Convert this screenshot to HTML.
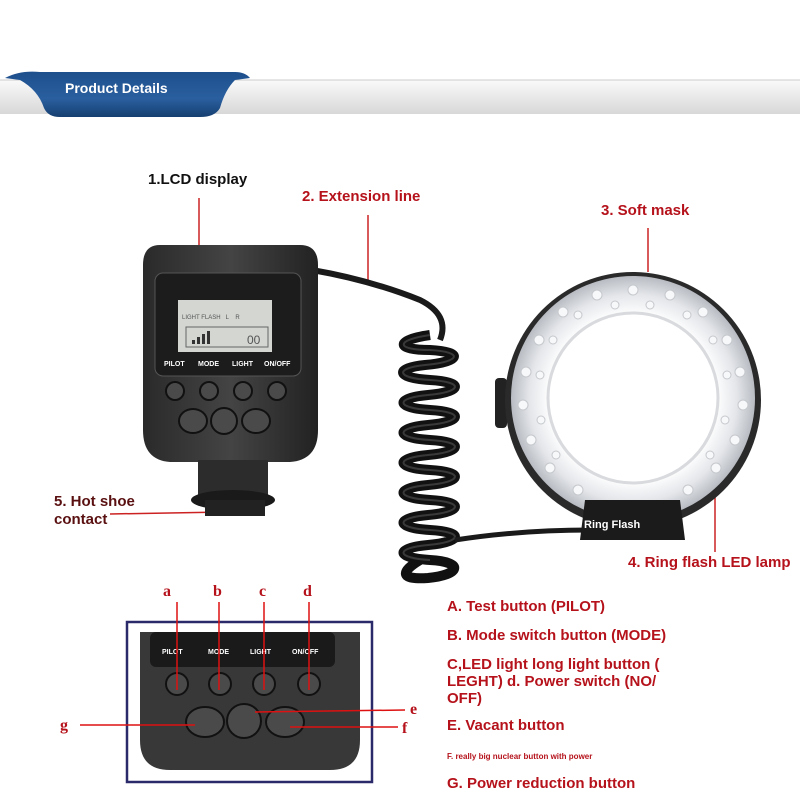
<!DOCTYPE html>
<html><head><style>
body{margin:0;background:#fff;}
svg{display:block;font-family:"Liberation Sans",sans-serif;}
.r{fill:#b5121b;font-weight:bold;font-size:15px;}
.lb{fill:#fff;font-weight:bold;font-size:7px;}
</style></head><body>
<svg width="800" height="800" viewBox="0 0 800 800">
<defs>
<linearGradient id="bar" x1="0" y1="0" x2="0" y2="1"><stop offset="0" stop-color="#fafafa"/><stop offset="1" stop-color="#d8d8d8"/></linearGradient>
<linearGradient id="tab" x1="0" y1="0" x2="0" y2="1"><stop offset="0" stop-color="#1d4f8c"/><stop offset=".6" stop-color="#2a5f9f"/><stop offset="1" stop-color="#163f70"/></linearGradient>
<radialGradient id="ring" cx=".5" cy=".5" r=".5"><stop offset=".68" stop-color="#fff"/><stop offset=".85" stop-color="#e4e6ea"/><stop offset="1" stop-color="#b8bcc2"/></radialGradient>
<linearGradient id="body" x1="0" y1="0" x2="1" y2="0"><stop offset="0" stop-color="#2a2a2a"/><stop offset=".5" stop-color="#444"/><stop offset="1" stop-color="#222"/></linearGradient>
</defs>
<rect x="0" y="80" width="800" height="34" fill="url(#bar)"/>
<line x1="0" y1="80" x2="800" y2="80" stroke="#ccc"/>
<path d="M5 78 Q20 70 40 72 L235 72 Q245 72 250 78 L235 80 Q225 90 220 108 Q215 117 200 117 L60 117 Q48 117 44 108 Q38 90 20 80 Z" fill="url(#tab)"/>
<text x="65" y="93" fill="#fff" font-weight="bold" font-size="14">Product Details</text>

<text x="148" y="184" fill="#111" font-weight="bold" font-size="15">1.LCD display</text>
<line x1="199" y1="198" x2="199" y2="270" stroke="#c22" stroke-width="1.5"/>
<text x="302" y="201" class="r">2. Extension line</text>
<line x1="368" y1="215" x2="368" y2="282" stroke="#c22" stroke-width="1.5"/>
<text x="601" y="215" class="r">3. Soft mask</text>
<line x1="648" y1="228" x2="648" y2="272" stroke="#c22" stroke-width="1.5"/>
<text x="54" y="506" fill="#5a1010" font-weight="bold" font-size="15">5. Hot shoe</text>
<text x="54" y="524" fill="#5a1010" font-weight="bold" font-size="15">contact</text>
<line x1="110" y1="514" x2="225" y2="512" stroke="#c22" stroke-width="1.5"/>
<text x="628" y="567" class="r">4. Ring flash LED lamp</text>
<line x1="715" y1="458" x2="715" y2="552" stroke="#c22" stroke-width="1.5"/>

<path d="M312 270 Q370 280 420 300 Q450 315 440 340" fill="none" stroke="#1a1a1a" stroke-width="6"/>
<g stroke="#111" stroke-width="10" fill="none">
<path d="M430 335 C395 340 395 350 430 350 C465 352 460 362 425 365 C395 368 395 378 430 380 C465 382 462 392 428 395 C395 398 395 408 430 410 C465 412 462 422 428 425 C395 428 395 438 430 440 C465 442 462 452 428 455 C395 458 395 468 430 470 C465 472 462 482 428 485 C395 488 395 498 430 500 C465 502 462 512 428 515 C395 518 395 528 430 530 C465 532 462 542 428 545 C395 548 395 558 430 560 C465 562 460 575 428 578 C400 580 400 572 420 560"/>
</g>
<g stroke="#555" stroke-width="2" fill="none" opacity=".6">
<path d="M430 335 C395 340 395 350 430 350 C465 352 460 362 425 365 C395 368 395 378 430 380 C465 382 462 392 428 395 C395 398 395 408 430 410 C465 412 462 422 428 425 C395 428 395 438 430 440 C465 442 462 452 428 455 C395 458 395 468 430 470 C465 472 462 482 428 485 C395 488 395 498 430 500 C465 502 462 512 428 515 C395 518 395 528 430 530 C465 532 462 542 428 545 C395 548 395 558 430 560"/>
</g>
<path d="M455 540 Q520 530 590 530" fill="none" stroke="#1a1a1a" stroke-width="5"/>

<rect x="495" y="378" width="12" height="50" rx="4" fill="#222"/>
<circle cx="633" cy="400" r="128" fill="#2a2a2a"/>
<circle cx="633" cy="398" r="122" fill="url(#ring)"/>
<circle cx="633" cy="398" r="85" fill="#fff" stroke="#d8dadd" stroke-width="3"/>
<path d="M585 500 L680 500 L685 540 L580 540 Z" fill="#1b1b1b"/>
<text x="584" y="528" fill="#fff" font-weight="bold" font-size="11">Ring Flash</text>

<path d="M160 245 L300 245 Q318 245 318 265 L318 430 Q318 460 290 462 L170 462 Q143 460 143 430 L143 265 Q143 245 160 245 Z" fill="url(#body)"/>
<rect x="155" y="273" width="146" height="103" rx="8" fill="#1c1c1c" stroke="#555"/>
<rect x="178" y="300" width="94" height="52" fill="#d3d6d1"/>
<text x="182" y="319" font-size="6" fill="#555">LIGHT FLASH &#160; L &#160;&#160; R</text>
<rect x="186" y="327" width="82" height="20" fill="none" stroke="#666" stroke-width="1"/>
<rect x="192" y="340" width="3" height="4" fill="#333"/><rect x="197" y="337" width="3" height="7" fill="#333"/><rect x="202" y="334" width="3" height="10" fill="#333"/><rect x="207" y="331" width="3" height="13" fill="#333"/>
<text x="247" y="344" font-size="12" fill="#555">00</text>
<text x="164" y="366" class="lb">PILOT</text><text x="198" y="366" class="lb">MODE</text><text x="232" y="366" class="lb">LIGHT</text><text x="264" y="366" class="lb">ON/OFF</text>
<g fill="#4a4a4a" stroke="#111" stroke-width="2">
<circle cx="175" cy="391" r="9"/><circle cx="209" cy="391" r="9"/><circle cx="243" cy="391" r="9"/><circle cx="277" cy="391" r="9"/>
<ellipse cx="193" cy="421" rx="14" ry="12"/><circle cx="224" cy="421" r="13"/><ellipse cx="256" cy="421" rx="14" ry="12"/>
</g>
<rect x="198" y="460" width="70" height="40" fill="#2c2c2c"/>
<ellipse cx="233" cy="500" rx="42" ry="10" fill="#1a1a1a"/>
<rect x="205" y="500" width="60" height="16" fill="#222"/>

<text x="163" y="596" fill="#b5121b" font-family="Liberation Serif,serif" font-weight="bold" font-size="16">a</text>
<text x="213" y="596" fill="#b5121b" font-family="Liberation Serif,serif" font-weight="bold" font-size="16">b</text>
<text x="259" y="596" fill="#b5121b" font-family="Liberation Serif,serif" font-weight="bold" font-size="16">c</text>
<text x="303" y="596" fill="#b5121b" font-family="Liberation Serif,serif" font-weight="bold" font-size="16">d</text>
<text x="60" y="730" fill="#b5121b" font-family="Liberation Serif,serif" font-weight="bold" font-size="16">g</text>
<text x="410" y="714" fill="#b5121b" font-family="Liberation Serif,serif" font-weight="bold" font-size="16">e</text>
<text x="402" y="733" fill="#b5121b" font-family="Liberation Serif,serif" font-weight="bold" font-size="16">f</text>
<rect x="127" y="622" width="245" height="160" fill="#fff" stroke="#2a2a6a" stroke-width="2.5"/>
<path d="M140 632 L360 632 L360 740 Q360 770 330 770 L170 770 Q140 770 140 740 Z" fill="#383838"/>
<rect x="150" y="632" width="185" height="35" rx="6" fill="#1a1a1a"/>
<text x="162" y="654" class="lb" font-size="8">PILOT</text><text x="208" y="654" class="lb" font-size="8">MODE</text><text x="250" y="654" class="lb" font-size="8">LIGHT</text><text x="292" y="654" class="lb" font-size="8">ON/OFF</text>
<g fill="#4a4a4a" stroke="#111" stroke-width="2">
<circle cx="177" cy="684" r="11"/><circle cx="220" cy="684" r="11"/><circle cx="264" cy="684" r="11"/><circle cx="309" cy="684" r="11"/>
<ellipse cx="205" cy="722" rx="19" ry="15"/><circle cx="244" cy="721" r="17"/><ellipse cx="285" cy="722" rx="19" ry="15"/>
</g>
<g stroke="#d11" stroke-width="1.5">
<line x1="177" y1="602" x2="177" y2="690"/><line x1="219" y1="602" x2="219" y2="690"/><line x1="264" y1="602" x2="264" y2="690"/><line x1="309" y1="602" x2="309" y2="690"/>
<line x1="80" y1="725" x2="195" y2="725"/><line x1="255" y1="712" x2="405" y2="710"/><line x1="290" y1="727" x2="398" y2="727"/>
</g>

<text x="447" y="611" class="r">A. Test button (PILOT)</text>
<text x="447" y="640" class="r">B. Mode switch button (MODE)</text>
<text x="447" y="669" class="r">C,LED light long light button (</text>
<text x="447" y="686" class="r">LEGHT) d. Power switch (NO/</text>
<text x="447" y="703" class="r">OFF)</text>
<text x="447" y="730" class="r">E. Vacant button</text>
<text x="447" y="759" class="r" style="font-size:8px">F. really big nuclear button with power</text>
<text x="447" y="788" class="r">G. Power reduction button</text>

<g fill="#f7f8fa" stroke="#c5c8cc" stroke-width="1">
<circle cx="633" cy="290" r="5"/><circle cx="670" cy="295" r="5"/><circle cx="703" cy="312" r="5"/><circle cx="727" cy="340" r="5"/><circle cx="740" cy="372" r="5"/><circle cx="743" cy="405" r="5"/><circle cx="735" cy="440" r="5"/><circle cx="716" cy="468" r="5"/><circle cx="688" cy="490" r="5"/><circle cx="597" cy="295" r="5"/><circle cx="563" cy="312" r="5"/><circle cx="539" cy="340" r="5"/><circle cx="526" cy="372" r="5"/><circle cx="523" cy="405" r="5"/><circle cx="531" cy="440" r="5"/><circle cx="550" cy="468" r="5"/><circle cx="578" cy="490" r="5"/>
<circle cx="650" cy="305" r="4"/><circle cx="687" cy="315" r="4"/><circle cx="713" cy="340" r="4"/><circle cx="727" cy="375" r="4"/><circle cx="725" cy="420" r="4"/><circle cx="710" cy="455" r="4"/><circle cx="615" cy="305" r="4"/><circle cx="578" cy="315" r="4"/><circle cx="553" cy="340" r="4"/><circle cx="540" cy="375" r="4"/><circle cx="541" cy="420" r="4"/><circle cx="556" cy="455" r="4"/>
</g>
</svg>
</body></html>
